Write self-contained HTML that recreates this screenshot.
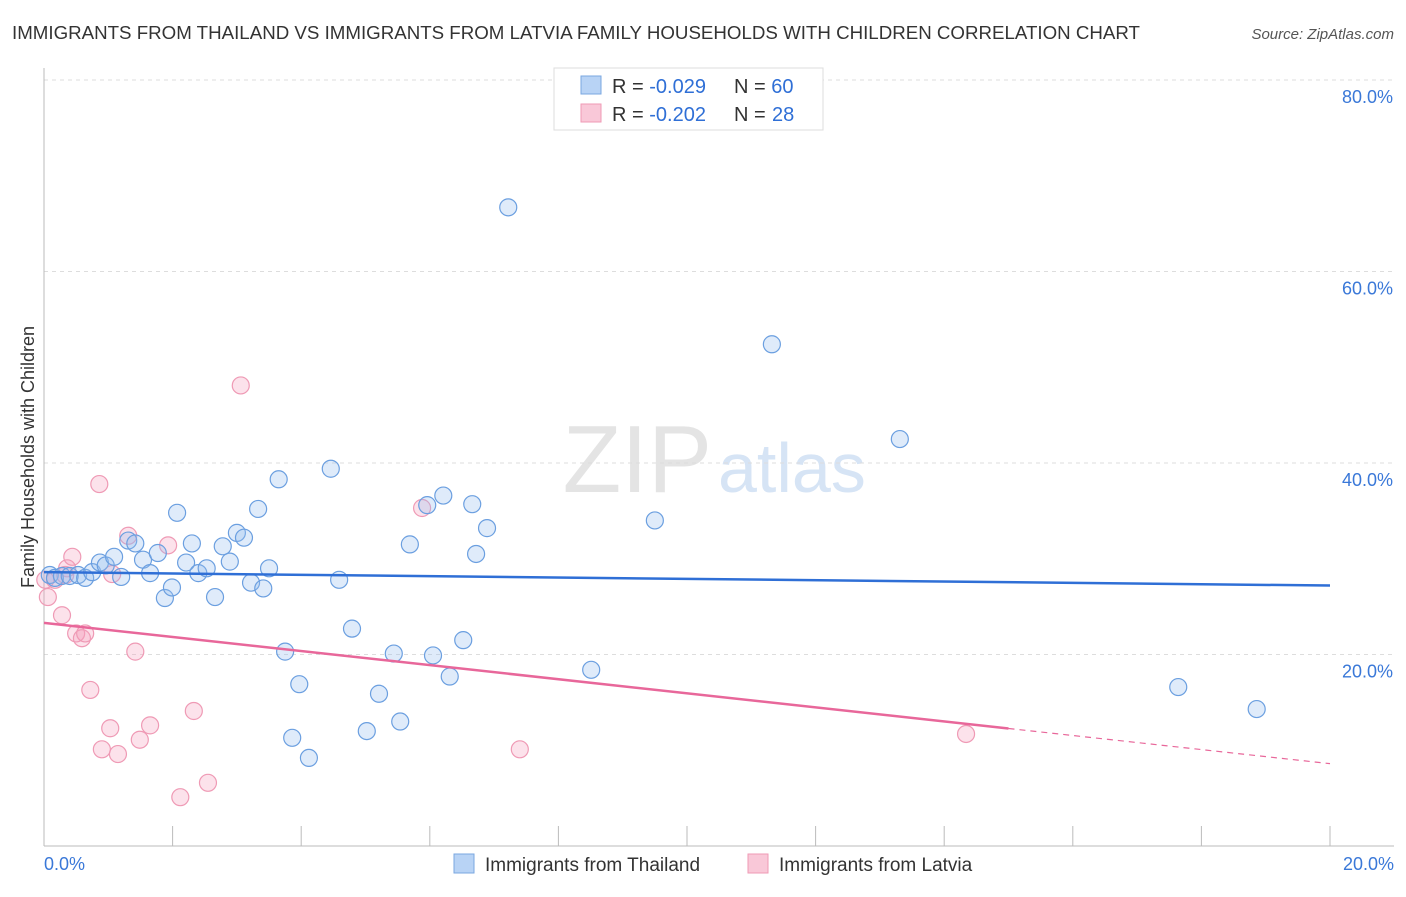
<!DOCTYPE html>
<html><head><meta charset="utf-8">
<style>
body{margin:0;background:#fff;font-family:"Liberation Sans",sans-serif;}
svg text{font-family:"Liberation Sans",sans-serif;}
</style></head>
<body>
<svg id="chart" width="1406" height="892">
<text x="12" y="39" font-size="18" fill="#333" textLength="1128" lengthAdjust="spacingAndGlyphs">IMMIGRANTS FROM THAILAND VS IMMIGRANTS FROM LATVIA FAMILY HOUSEHOLDS WITH CHILDREN CORRELATION CHART</text>
<text x="1394" y="39" font-size="15" fill="#555" font-style="italic" text-anchor="end">Source: ZipAtlas.com</text>
<text x="712" y="492" font-size="96" fill="#e4e4e4" text-anchor="end" font-family="Liberation Serif">ZIP</text>
<text x="718" y="492" font-size="70" fill="#d6e4f5">atlas</text>
<text transform="translate(34,457) rotate(-90)" font-size="18" fill="#333" text-anchor="middle">Family Households with Children</text>
<g id="grid"></g><g id="axes"></g><g id="marks"></g>
<g>
<rect x="554" y="68" width="269" height="62" fill="#fff" stroke="#ddd"/>
<rect x="581" y="76" width="20" height="18" fill="#b8d3f5" stroke="#7aa7e0"/>
<rect x="581" y="104" width="20" height="18" fill="#f9c8d8" stroke="#ef9ab5"/>
<text x="612" y="93" font-size="20" fill="#333">R = <tspan fill="#2f6fd6">-0.029</tspan></text>
<text x="734" y="93" font-size="20" fill="#333">N = <tspan fill="#2f6fd6">60</tspan></text>
<text x="612" y="121" font-size="20" fill="#333">R = <tspan fill="#2f6fd6">-0.202</tspan></text>
<text x="734" y="121" font-size="20" fill="#333">N = </text>
<text x="772" y="121" font-size="20" fill="#2f6fd6">28</text>
</g>
<g>
<rect x="454" y="854" width="20" height="19" fill="#b8d3f5" stroke="#7aa7e0"/>
<text x="485" y="871" font-size="19" fill="#333">Immigrants from Thailand</text>
<rect x="748" y="854" width="20" height="19" fill="#f9c8d8" stroke="#ef9ab5"/>
<text x="779" y="871" font-size="19" fill="#333">Immigrants from Latvia</text>
</g>
</svg>
<script>
const yTicks=[20,40,60,80];
const yTickLabels=["20.0%","40.0%","60.0%","80.0%"];
const xLabels=["0.0%","20.0%"];
const blueX=[0.09,0.17,0.28,0.40,0.53,0.64,0.75,0.87,0.96,1.09,1.20,1.31,1.42,1.54,1.65,1.77,1.88,1.99,2.07,2.21,2.30,2.40,2.53,2.66,2.78,2.89,3.00,3.11,3.22,3.33,3.41,3.50,3.65,3.75,3.86,3.97,4.12,4.46,4.59,4.79,5.02,5.21,5.44,5.54,5.69,5.96,6.05,6.21,6.31,6.52,6.66,6.72,6.89,7.22,8.51,9.50,11.32,13.31,17.64,18.86];
const blueY=[28.3,28.0,28.2,28.2,28.3,28.0,28.6,29.6,29.3,30.2,28.1,31.9,31.6,29.9,28.5,30.6,25.9,27.0,34.8,29.6,31.6,28.5,29.0,26.0,31.3,29.7,32.7,32.2,27.5,35.2,26.9,29.0,38.3,20.3,11.3,16.9,9.2,39.4,27.8,22.7,12.0,15.9,20.1,13.0,31.5,35.6,19.9,36.6,17.7,21.5,35.7,30.5,33.2,66.7,18.4,34.0,52.4,42.5,16.6,14.3];
const pinkX=[0.06,0.17,0.28,0.36,0.44,0.50,0.59,0.64,0.72,0.86,0.90,1.03,1.06,1.15,1.31,1.42,1.49,1.65,1.93,2.12,2.33,2.55,3.06,5.88,7.40,14.34,0.33,0.02];
const pinkY=[26.0,27.8,24.1,29.0,30.2,22.2,21.7,22.2,16.3,37.8,10.1,12.3,28.4,9.6,32.4,20.3,11.1,12.6,31.4,5.1,14.1,6.6,48.1,35.3,10.1,11.7,28.3,27.8];
const blueTrend=[28.6,27.2];
const pinkTrend=[23.3,8.6];
const pinkSolidEnd=15.0;
const X=v=>44+v*64.3, Y=v=>846-v*9.575;
const NS="http://www.w3.org/2000/svg";
function mk(t,a,p){const e=document.createElementNS(NS,t);for(const k in a)e.setAttribute(k,a[k]);document.getElementById(p).appendChild(e);return e;}
yTicks.forEach((t,i)=>{
 const g=mk('line',{x1:44,x2:1394,y1:Y(t),y2:Y(t),stroke:'#ddd','stroke-dasharray':'4,4'},'grid');
 
 
 const l=mk('text',{x:1393,y:Y(t)+23,'font-size':18,fill:'#3a78d8','text-anchor':'end'},'axes');
 l.textContent=yTickLabels[i];
 
 
});
const ax=mk('line',{x1:44,x2:1394,y1:846,y2:846,stroke:'#bbb'},'axes');


const ay=mk('line',{x1:44,x2:44,y1:68,y2:846,stroke:'#bbb'},'axes');


for(let i=0;i<=10;i++){const t=mk('line',{x1:X(i*2),x2:X(i*2),y1:826,y2:846,stroke:'#bbb'},'axes');
 
 }
[[0,'start',44],[20,'end',1394]].forEach((d,i)=>{const t=mk('text',{x:d[2],y:870,'font-size':18,fill:'#3a78d8','text-anchor':d[1]},'axes');t.textContent=xLabels[i];
 
 });
function dots(xs,ys,fill,stroke,name){xs.forEach((x,i)=>{const c=mk('circle',{cx:X(x),cy:Y(ys[i]),r:8.5,fill:fill,stroke:stroke,'stroke-width':1.2},'marks');
 
 });}
dots(pinkX,pinkY,'rgba(245,160,190,0.3)','#ef9ab5','latvia-point');
dots(blueX,blueY,'rgba(150,190,240,0.3)','#6b9fe0','thailand-point');
const bl=mk('line',{x1:X(0),y1:Y(blueTrend[0]),x2:X(20),y2:Y(blueTrend[1]),stroke:'#2f6fd6','stroke-width':2.5},'marks');


const pm=pinkTrend[0]+(pinkTrend[1]-pinkTrend[0])*pinkSolidEnd/20;
const pl=mk('line',{x1:X(0),y1:Y(pinkTrend[0]),x2:X(pinkSolidEnd),y2:Y(pm),stroke:'#e8679a','stroke-width':2.5},'marks');


const pd=mk('line',{x1:X(pinkSolidEnd),y1:Y(pm),x2:X(20),y2:Y(pinkTrend[1]),stroke:'#e8679a','stroke-width':1.2,'stroke-dasharray':'6,5'},'marks');


</script>
</body></html>
